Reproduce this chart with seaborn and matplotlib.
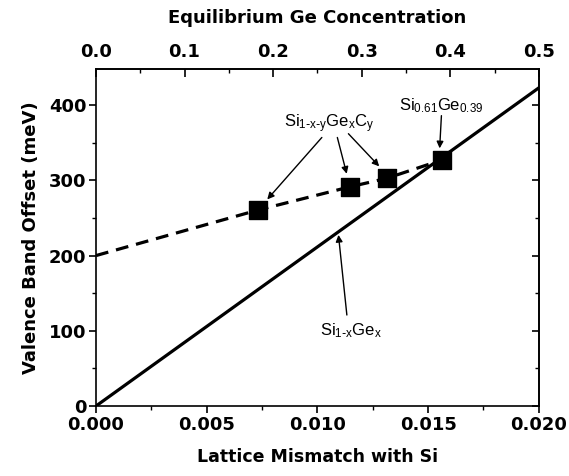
import matplotlib
matplotlib.use("Agg")
import matplotlib.pyplot as plt
import seaborn as sns
import pandas as pd
from matplotlib.ticker import MultipleLocator, FormatStrFormatter

# Data
sige_mismatch = [0.0, 0.020]
sige_offset = [0.0, 423.0]

sigec_line_mismatch = [0.0, 0.00731, 0.01147, 0.01312, 0.01561]
sigec_line_offset = [200.0, 260.5, 291.4, 302.6, 327.0]

point_mismatch = [0.00731, 0.01147, 0.01312, 0.01561]
point_offset = [260.5, 291.4, 302.6, 327.0]

bottom_ticks = [0.000, 0.005, 0.010, 0.015, 0.020]
top_ticks = [0.0, 0.1, 0.2, 0.3, 0.4, 0.5]
left_ticks = [0, 100, 200, 300, 400]

sns.set_theme(style="ticks")
plt.rcParams['font.family'] = ['Liberation Sans', 'DejaVu Sans']
plt.rcParams['mathtext.default'] = 'regular'
for k in ['text.color', 'axes.labelcolor', 'xtick.color', 'ytick.color', 'axes.edgecolor']:
    plt.rcParams[k] = 'black'

BOLD = dict(family='DejaVu Sans', weight='bold')

fig = plt.figure(figsize=(5.69, 4.76), dpi=100)
ax = fig.add_axes([0.1687, 0.147, 0.7783, 0.708])

df_sige = pd.DataFrame({"m": sige_mismatch, "v": sige_offset})
df_c = pd.DataFrame({"m": sigec_line_mismatch, "v": sigec_line_offset})
df_p = pd.DataFrame({"m": point_mismatch, "v": point_offset})

sns.lineplot(data=df_sige, x="m", y="v", ax=ax, color="black", lw=2.3)
sns.lineplot(data=df_c, x="m", y="v", ax=ax, color="black", lw=2.3,
             linestyle=(0, (4, 2.5)))
sns.scatterplot(data=df_p, x="m", y="v", ax=ax, marker="s", s=150,
                color="black", edgecolor="black", zorder=5)

ax.set_xlim(0, 0.020)
ax.set_ylim(0, 448)
ax.set_xticks(bottom_ticks)
ax.set_yticks(left_ticks)
ax.xaxis.set_minor_locator(MultipleLocator(0.0025))
ax.yaxis.set_minor_locator(MultipleLocator(50))
ax.xaxis.set_major_formatter(FormatStrFormatter('%.3f'))
ax.tick_params(axis='both', which='major', direction='out', length=5, width=1.2,
               labelsize=13, top=False, right=False, pad=2)
ax.tick_params(axis='both', which='minor', direction='out', length=3, width=1.0,
               top=False, right=False)
for lab in ax.get_xticklabels() + ax.get_yticklabels():
    lab.set_fontfamily('DejaVu Sans')
    lab.set_fontweight('bold')
for sp in ax.spines.values():
    sp.set_visible(True)
    sp.set_linewidth(1.2)
    sp.set_color('black')

ax.set_xlabel("Lattice Mismatch with Si", fontsize=12.5, labelpad=10, **BOLD)
ax.set_ylabel("Valence Band Offset (meV)", fontsize=13, labelpad=6, **BOLD)

top = ax.secondary_xaxis('top', functions=(lambda m: m / 0.04, lambda c: c * 0.04))
top.set_xticks(top_ticks)
top.xaxis.set_minor_locator(MultipleLocator(0.05))
top.xaxis.set_major_formatter(FormatStrFormatter('%.1f'))
top.tick_params(axis='x', which='major', direction='in', length=6, width=1.2, labelsize=13, pad=6)
top.tick_params(axis='x', which='minor', direction='in', length=3, width=1.0)
for lab in top.get_xticklabels():
    lab.set_fontfamily('DejaVu Sans')
    lab.set_fontweight('bold')
top.set_xlabel("Equilibrium Ge Concentration", fontsize=13, labelpad=14, **BOLD)
top.spines['top'].set_linewidth(1.2)

right = ax.secondary_yaxis('right')
right.set_yticks(left_ticks)
right.yaxis.set_minor_locator(MultipleLocator(50))
right.tick_params(axis='y', which='major', direction='in', length=5, width=1.2, labelright=False)
right.tick_params(axis='y', which='minor', direction='in', length=3, width=1.0)
right.spines['right'].set_linewidth(1.2)

arrow = dict(arrowstyle='-|>', color='black', lw=1.0, mutation_scale=10, shrinkA=0, shrinkB=3)

ax.text(0.01052, 371, r"Si$_{1\text{-}x\text{-}y}$Ge$_x$C$_y$", fontsize=12,
        ha='center', va='baseline')
ax.annotate("", xy=(point_mismatch[0] + 0.0003, point_offset[0] + 10), xytext=(0.0102, 357),
            arrowprops=arrow)
ax.annotate("", xy=(point_mismatch[1] - 0.0001, point_offset[1] + 12), xytext=(0.0109, 357),
            arrowprops=arrow)
ax.annotate("", xy=(point_mismatch[2] - 0.0002, point_offset[2] + 12), xytext=(0.0114, 362),
            arrowprops=arrow)

ax.text(0.01558, 393, r"Si$_{0.61}$Ge$_{0.39}$", fontsize=12, ha='center', va='baseline')
ax.annotate("", xy=(point_mismatch[3] - 0.0001, point_offset[3] + 10), xytext=(0.0156, 386),
            arrowprops=arrow)

ax.text(0.01151, 94.5, r"Si$_{1\text{-}x}$Ge$_x$", fontsize=12, ha='center', va='baseline')
ax.annotate("", xy=(0.01093, 233), xytext=(0.01133, 121), arrowprops=arrow)

fig.savefig("out.png", dpi=100)
